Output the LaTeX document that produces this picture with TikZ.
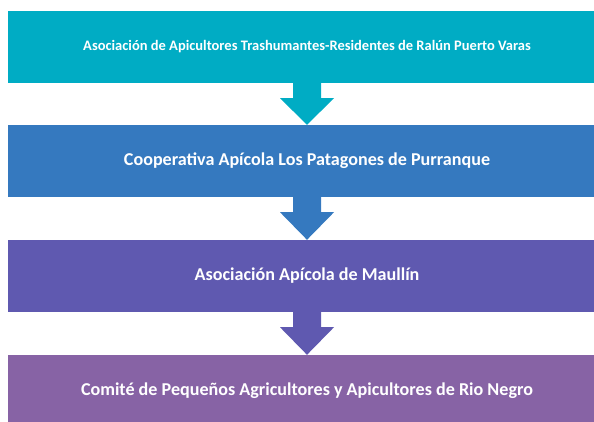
\documentclass[tikz,border=0pt]{standalone}
\usepackage{fontspec}
\setmainfont{Carlito}
\usetikzlibrary{calc}
\definecolor{cA}{HTML}{00ACC4}
\definecolor{cB}{HTML}{3579BF}
\definecolor{cC}{HTML}{5F59B0}
\definecolor{cD}{HTML}{8763A5}
\tikzset{
  box/.style={rectangle, draw=none, minimum width=598pt, minimum height=72pt, inner sep=0pt, text=white, align=center, font=\bfseries\fontsize{18.1}{21}\selectfont}
}
\newcommand{\flowarrow}[3]{%
  \fill[#3] ($(#1.south)+(-14,0)$) -- ($(#1.south)+(14,0)$) -- ($(#1.south)+(14,15)$) -- ($(#1.south)+(27,15)$)
   -- (#2.north) -- ($(#1.south)+(-27,15)$) -- ($(#1.south)+(-14,15)$) -- cycle;}
\begin{document}
\begin{tikzpicture}[x=1pt,y=-1pt]
\useasboundingbox (0,0) rectangle (594,422);
\clip (0,0) rectangle (594,422);
\node[box, fill=cA, font=\bfseries\fontsize{14.5}{17}\selectfont] (b1) at (307,47) {Asociación de Apicultores Trashumantes-Residentes de Ralún Puerto Varas};
\node[box, fill=cB] (b2) at (307,161) {Cooperativa Apícola Los Patagones de Purranque};
\node[box, fill=cC] (b3) at (307,276) {Asociación Apícola de Maullín};
\node[box, fill=cD] (b4) at (307,391) {Comité de Pequeños Agricultores y Apicultores de Rio Negro};
\flowarrow{b1}{b2}{cA}
\flowarrow{b2}{b3}{cB}
\flowarrow{b3}{b4}{cC}
\end{tikzpicture}
\end{document}
